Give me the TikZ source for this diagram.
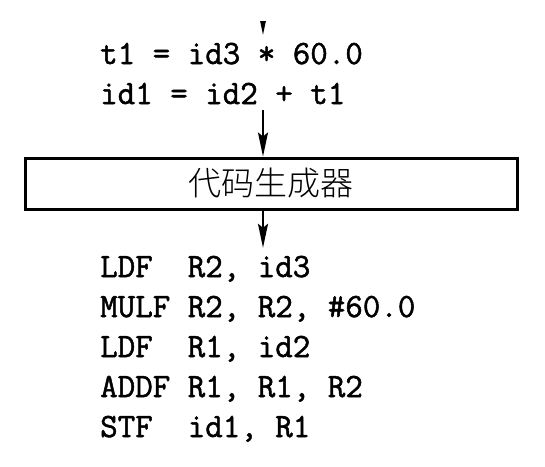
\documentclass[tikz,border=0pt]{standalone}
\usepackage{fontspec}
\setmonofont{Latin Modern Mono}[FakeBold=1.5]
\newfontfamily\cjk{Noto Sans CJK SC Light}
\usetikzlibrary{arrows.meta}

\tikzset{
  code/.style={font=\fontsize{34}{40}\selectfont\ttfamily, inner sep=0pt, text height=21pt, text depth=6pt, anchor=base west},
  arr/.style={-{Stealth[length=24pt,width=10pt,inset=4pt]}, line width=1.9pt},
  stage/.style={draw, line width=3pt, minimum width=492pt, minimum height=51pt, inner sep=0pt, font=\cjk\fontsize{33}{40}\selectfont},
}

\begin{document}
\begin{tikzpicture}[x=1pt,y=-1pt]
\useasboundingbox (0,0) rectangle (545,466);
\coordinate (axis) at (263,0);
\coordinate (src) at (263,-10);
% intermediate code
\node[code] (ir1) at (100,64) {t1 = id3 * 60.0};
\node[code] (ir2) at (100,104) {id1 = id2 + t1};
% code generator
\node[stage] (gen) at (271,183.5) {代码生成器};
% target code
\node[code] (asm1) at (100,277) {LDF\ \ R2, id3};
\node[code] (asm2) at (100,317) {MULF R2, R2, \#60.0};
\node[code] (asm3) at (100,357) {LDF\ \ R1, id2};
\node[code] (asm4) at (100,397) {ADDF R1, R1, R2};
\node[code] (asm5) at (100,437) {STF\ \ id1, R1};
% arrows
\begin{scope}
\clip (0,21) rectangle (545,466);
\draw[arr, shorten >=8pt] (src) -- (ir1.north -| axis);
\end{scope}
\draw[arr] (ir2.south -| axis) -- (gen.north -| axis);
\draw[arr, shorten >=8pt] (gen.south -| axis) -- (asm1.north -| axis);
\end{tikzpicture}
\end{document}
